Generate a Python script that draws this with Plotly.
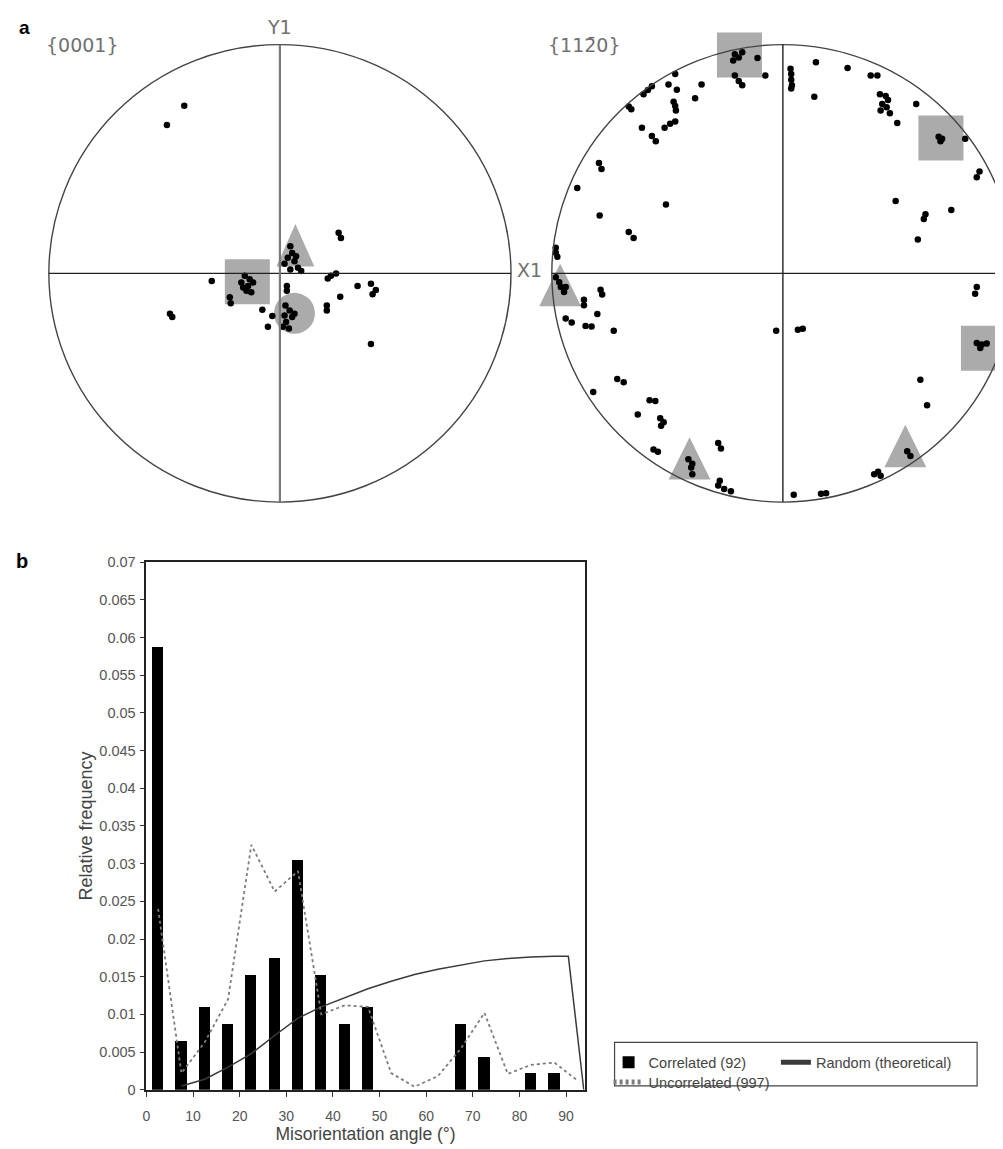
import plotly.graph_objects as go

# ---------------- data: misorientation histogram ----------------
bin_centers = [2.5, 7.5, 12.5, 17.5, 22.5, 27.5, 32.5, 37.5, 42.5, 47.5,
               52.5, 57.5, 62.5, 67.5, 72.5, 77.5, 82.5, 87.5]
correlated = [0.0587, 0.0065, 0.0109, 0.0087, 0.0152, 0.0174, 0.0304, 0.0152, 0.0087, 0.0109,
              0.0, 0.0, 0.0, 0.0087, 0.0043, 0.0, 0.0022, 0.0022]

uncorr_x = [2.5, 7.5, 12.5, 17.5, 22.5, 27.5, 32.5, 37.5, 42.5, 47.5,
            52.5, 57.5, 62.5, 67.5, 72.5, 77.5, 82.5, 87.5, 92.5]
uncorrelated = [0.0240, 0.0022, 0.0063, 0.0120, 0.0325, 0.0263, 0.0290, 0.0100, 0.0112, 0.0110,
                0.0022, 0.0004, 0.0018, 0.0055, 0.0102, 0.0021, 0.0033, 0.0036, 0.0012]

random_x = [7.5, 12.5, 17.5, 22.5, 27.5, 32.5, 37.5, 42.5, 47.5, 52.5,
            57.5, 62.5, 67.5, 72.5, 77.5, 82.5, 87.5, 90.5, 93.8]
random_theo = [0.0005, 0.0014, 0.0030, 0.0048, 0.0072, 0.0095, 0.0110, 0.0122, 0.0134, 0.0144,
               0.0153, 0.0160, 0.0166, 0.0171, 0.0174, 0.0176, 0.0177, 0.0177, 0.0]

x_ticks = [0, 10, 20, 30, 40, 50, 60, 70, 80, 90]
y_ticks = [0, 0.005, 0.01, 0.015, 0.02, 0.025, 0.03, 0.035, 0.04, 0.045,
           0.05, 0.055, 0.06, 0.065, 0.07]
y_tick_labels = ["0", "0.005", "0.01", "0.015", "0.02", "0.025", "0.03", "0.035", "0.04",
                 "0.045", "0.05", "0.055", "0.06", "0.065", "0.07"]

# ---------------- data: {0001} pole figure (unit circle coords) ----------------
p1_x = [-0.414, -0.489, -0.295,
        -0.152, -0.131, -0.167, -0.138, -0.116, -0.145, -0.124, -0.159,
        -0.217, -0.213, -0.476, -0.466, -0.076, -0.033, -0.052,
        0.024, 0.042, 0.020, 0.053, 0.027, 0.013, 0.039, 0.063,
        0.030, 0.030,
        0.045, 0.053, 0.034, 0.063, 0.020, 0.078, 0.045, 0.092, 0.070,
        0.254, 0.264, 0.221, 0.207, 0.243, 0.336, 0.394, 0.415, 0.401,
        0.261, 0.203, 0.203, 0.394]
p1_y = [0.733, 0.648, -0.033,
        -0.011, -0.026, -0.040, -0.055, -0.040, -0.076, -0.083, -0.062,
        -0.105, -0.131, -0.177, -0.191, -0.159, -0.187, -0.234,
        -0.141, -0.162, -0.184, -0.191, -0.213, -0.234, -0.241, -0.177,
        -0.055, -0.076,
        0.118, 0.089, 0.068, 0.053, 0.042, 0.024, 0.017, 0.010, 0.075,
        0.178, 0.154, -0.011, -0.023, -0.001, -0.055, -0.045, -0.073, -0.091,
        -0.102, -0.141, -0.162, -0.309]

p1_sq_x = [-0.141]
p1_sq_y = [-0.037]
p1_tri_x = [0.067]
p1_tri_y = [0.123]
p1_circ_x = [0.063]
p1_circ_y = [-0.175]

# ---------------- data: {11-20} pole figure ----------------
p2_x = [-0.208, -0.191, -0.215, -0.176, -0.110, -0.208, -0.191, -0.176, -0.076,
        0.033, 0.036, 0.036, 0.039, 0.036,
        0.143, 0.280, 0.380, 0.409, 0.136,
        0.420, 0.445, 0.455, 0.430, 0.423, 0.449, 0.463, 0.495, 0.577,
        0.674, 0.689, 0.682,
        0.789, 0.851, 0.839,
        0.488, 0.617, 0.610, 0.729, 0.584,
        0.940, 0.839, 0.832,
        0.839, 0.861, 0.882, 0.854,
        0.595, 0.624, 0.538, 0.552,
        0.395, 0.412, 0.423, 0.165, 0.187, 0.047,
        -0.029, 0.065, 0.086,
        -0.466, -0.495, -0.459, -0.352, -0.567, -0.584, -0.603, -0.667, -0.656,
        -0.473, -0.466, -0.463, -0.380, -0.466, -0.488, -0.512, -0.610, -0.567, -0.550,
        -0.796, -0.785, -0.890, -0.793, -0.506, -0.667, -0.646,
        -0.983, -0.983, -0.976,
        -0.983, -0.968, -0.961, -0.947, -0.940, -0.861, -0.861, -0.789, -0.782,
        -0.940, -0.914, -0.803, -0.854, -0.828, -0.732,
        -0.717, -0.689, -0.821, -0.577, -0.552, -0.628, -0.531, -0.516, -0.527,
        -0.560, -0.541,
        -0.409, -0.392, -0.397, -0.392,
        -0.280, -0.268,
        -0.273, -0.280, -0.254, -0.225]
p2_y = [0.958, 0.944, 0.930, 0.966, 0.941, 0.865, 0.841, 0.822, 0.865,
        0.894, 0.872, 0.846, 0.822, 0.808,
        0.923, 0.898, 0.865, 0.865, 0.772,
        0.783, 0.775, 0.758, 0.740, 0.712, 0.726, 0.700, 0.657, 0.740,
        0.597, 0.588, 0.578,
        0.588, 0.445, 0.420,
        0.316, 0.258, 0.238, 0.277, 0.148,
        -0.032, -0.060, -0.089,
        -0.304, -0.311, -0.307, -0.326,
        -0.465, -0.577, -0.778, -0.799,
        -0.878, -0.867, -0.885, -0.964, -0.961, -0.968,
        -0.251, -0.247, -0.242,
        0.872, 0.826, 0.803, 0.826, 0.818, 0.801, 0.783, 0.729, 0.717,
        0.750, 0.732, 0.712, 0.765, 0.664, 0.654, 0.636, 0.636, 0.600, 0.578,
        0.482, 0.456, 0.373, 0.253, 0.301, 0.181, 0.155,
        0.112, 0.090, 0.072,
        -0.017, -0.039, -0.060, -0.082, -0.060, -0.115, -0.139, -0.072, -0.092,
        -0.197, -0.215, -0.178, -0.230, -0.232, -0.251,
        -0.462, -0.476, -0.519, -0.555, -0.558, -0.617, -0.634, -0.651, -0.666,
        -0.770, -0.780,
        -0.813, -0.832, -0.849, -0.878,
        -0.742, -0.766,
        -0.907, -0.928, -0.943, -0.953]

p2_sq_x = [-0.188, 0.684, 0.868]
p2_sq_y = [0.954, 0.592, -0.328]
p2_tri_x = [-0.964, -0.404, 0.530]
p2_tri_y = [-0.051, -0.809, -0.755]

# ---------------- layout geometry ----------------
# The page body has an 8px default margin; the figure is sized so it fills the
# rest of the 1003x1149 window exactly. Positions below are page pixels.
OFF = 8
W, H = 1003 - OFF, 1149 - OFF
PX_PER_UNIT = 232.0
GRAY_MARK = "#ababab"
FONT = "Liberation Sans, Arial, sans-serif"
FONT_POLE = "DejaVu Sans, Verdana, sans-serif"


def px_x(px):
    return (px - OFF) / W


def px_y(py):
    return 1 - (py - OFF) / H


def px_dom_x(a, b):
    return [px_x(a), min(1.0, px_x(b))]


def px_dom_y(top, bottom):
    return [px_y(bottom), px_y(top)]


def tri_path(cx_list, cy_list, w_px=38, h_px=43):
    hw = w_px / 2 / PX_PER_UNIT
    hh = h_px / 2 / PX_PER_UNIT
    xs, ys = [], []
    for cx, cy in zip(cx_list, cy_list):
        xs += [cx - hw, cx + hw, cx, cx - hw, None]
        ys += [cy - hh, cy - hh, cy + hh, cy - hh, None]
    return xs, ys


fig = go.Figure()

# ---- histogram (panel b) ----
fig.add_trace(go.Bar(x=bin_centers, y=correlated, width=2.4, name="Correlated (92)",
                     marker=dict(color="black", line=dict(width=0)),
                     xaxis="x", yaxis="y", legend="legend"))
fig.add_trace(go.Scatter(x=random_x, y=random_theo, mode="lines", name="Random (theoretical)",
                         line=dict(color="#3a3a3a", width=1.5), xaxis="x", yaxis="y",
                         legend="legend3"))
fig.add_trace(go.Scatter(x=uncorr_x, y=uncorrelated, mode="lines", name="Uncorrelated (997)",
                         line=dict(color="#7c7c7c", width=1.8, dash="3px,3px"),
                         xaxis="x", yaxis="y", legend="legend2"))

# ---- pole figure 1 ----
fig.add_trace(go.Scatter(x=p1_sq_x, y=p1_sq_y, mode="markers", showlegend=False,
                         marker=dict(symbol="square", size=45, color=GRAY_MARK, line=dict(width=0)),
                         xaxis="x2", yaxis="y2"))
fig.add_trace(go.Scatter(x=p1_circ_x, y=p1_circ_y, mode="markers", showlegend=False,
                         marker=dict(symbol="circle", size=41, color=GRAY_MARK, line=dict(width=0)),
                         xaxis="x2", yaxis="y2"))
tx, ty = tri_path(p1_tri_x, p1_tri_y)
fig.add_trace(go.Scatter(x=tx, y=ty, mode="lines", fill="toself", fillcolor=GRAY_MARK,
                         line=dict(width=0), showlegend=False, xaxis="x2", yaxis="y2"))
fig.add_trace(go.Scatter(x=p1_x, y=p1_y, mode="markers", showlegend=False,
                         marker=dict(size=6.5, color="black"), xaxis="x2", yaxis="y2"))

# ---- pole figure 2 ----
fig.add_trace(go.Scatter(x=p2_sq_x, y=p2_sq_y, mode="markers", showlegend=False,
                         marker=dict(symbol="square", size=45, color=GRAY_MARK, line=dict(width=0)),
                         xaxis="x3", yaxis="y3"))
tx, ty = tri_path(p2_tri_x, p2_tri_y, w_px=42, h_px=43)
fig.add_trace(go.Scatter(x=tx, y=ty, mode="lines", fill="toself", fillcolor=GRAY_MARK,
                         line=dict(width=0), showlegend=False, xaxis="x3", yaxis="y3"))
fig.add_trace(go.Scatter(x=p2_x, y=p2_y, mode="markers", showlegend=False,
                         marker=dict(size=6.5, color="black"), xaxis="x3", yaxis="y3"))

# ---- shapes: primitive circles & crosshairs ----
shapes = []
for ax, vcol, vw in (("2", "#7a7a7a", 2.2), ("3", "#222222", 1.4)):
    shapes.append(dict(type="circle", xref="x" + ax, yref="y" + ax, x0=-1, x1=1, y0=-1, y1=1,
                       line=dict(color="#444444", width=1.4), layer="above"))
    shapes.append(dict(type="line", xref="x" + ax, yref="y" + ax, x0=-1, x1=1, y0=0, y1=0,
                       line=dict(color="#222222", width=1.4), layer="above"))
    shapes.append(dict(type="line", xref="x" + ax, yref="y" + ax, x0=0, x1=0, y0=-1, y1=1,
                       line=dict(color=vcol, width=vw), layer="above"))
# legend frame
shapes.append(dict(type="rect", xref="paper", yref="paper",
                   x0=px_x(613), x1=px_x(977), y0=px_y(1093), y1=px_y(1049),
                   line=dict(color="#444444", width=1.2), layer="below"))

hidden = dict(visible=False, showgrid=False, zeroline=False, fixedrange=True)
r1 = [-250 / PX_PER_UNIT, 250 / PX_PER_UNIT]


def label(text, x, y, size=19, color="#707070", family=FONT_POLE):
    return dict(text=text, x=px_x(x), y=px_y(y), xref="paper", yref="paper",
                xanchor="center", yanchor="middle", showarrow=False,
                font=dict(size=size, color=color, family=family))


annotations = [
    label("<b>a</b>", 21, 20, size=19, color="black", family=FONT),
    label("{0001}", 79, 37),
    label("Y1", 277, 19),
    label("X1", 528, 266),
    label("{112\u03040}", 583, 37),
    label("<b>b</b>", 18, 561, size=20, color="black", family=FONT),
]

legend_common = dict(orientation="h", xanchor="left", yanchor="top",
                     borderwidth=0, bgcolor="rgba(0,0,0,0)",
                     font=dict(size=14.5, color="#444444", family=FONT),
                     itemsizing="constant")

fig.update_layout(
    width=W, height=H,
    margin=dict(l=0, r=0, t=0, b=0),
    paper_bgcolor="white", plot_bgcolor="white",
    font=dict(family=FONT, color="#444444"),
    bargap=0,
    xaxis=dict(domain=px_dom_x(143, 583), range=[0, 94], tickvals=x_ticks,
               ticks="outside", ticklen=5, tickcolor="#333333", showgrid=False, zeroline=False,
               showline=True, linecolor="#222222", linewidth=1.8, mirror=True,
               ticklabelstandoff=8,
               tickfont=dict(size=14, color="#555555"),
               title=dict(text="Misorientation angle (°)", standoff=2,
                          font=dict(size=17.5, color="#444444")),
               anchor="y", fixedrange=True),
    yaxis=dict(domain=px_dom_y(562, 1097), range=[0, 0.07], tickvals=y_ticks,
               ticktext=y_tick_labels,
               ticks="outside", ticklen=5, tickcolor="#333333", showgrid=False, zeroline=False,
               showline=True, linecolor="#222222", linewidth=1.8, mirror=True,
               ticklabelstandoff=1,
               tickfont=dict(size=14.5, color="#555555"),
               title=dict(text="Relative frequency", standoff=2,
                          font=dict(size=18, color="#444444")),
               anchor="x", fixedrange=True),
    xaxis2=dict(domain=px_dom_x(27, 527), range=r1, anchor="y2", **hidden),
    yaxis2=dict(domain=px_dom_y(19, 519), range=r1, anchor="x2", **hidden),
    xaxis3=dict(domain=px_dom_x(532, 1003),
                range=[(532 - 782) / PX_PER_UNIT, (1003 - 782) / PX_PER_UNIT],
                anchor="y3", **hidden),
    yaxis3=dict(domain=px_dom_y(19, 519), range=r1, anchor="x3", **hidden),
    shapes=shapes,
    annotations=annotations,
    showlegend=True,
    legend=dict(x=px_x(607), y=px_y(1053), **legend_common),
    legend3=dict(x=px_x(775), y=px_y(1053), **legend_common),
    legend2=dict(x=px_x(607), y=px_y(1073), **legend_common),
)

fig.write_html("out.html")
